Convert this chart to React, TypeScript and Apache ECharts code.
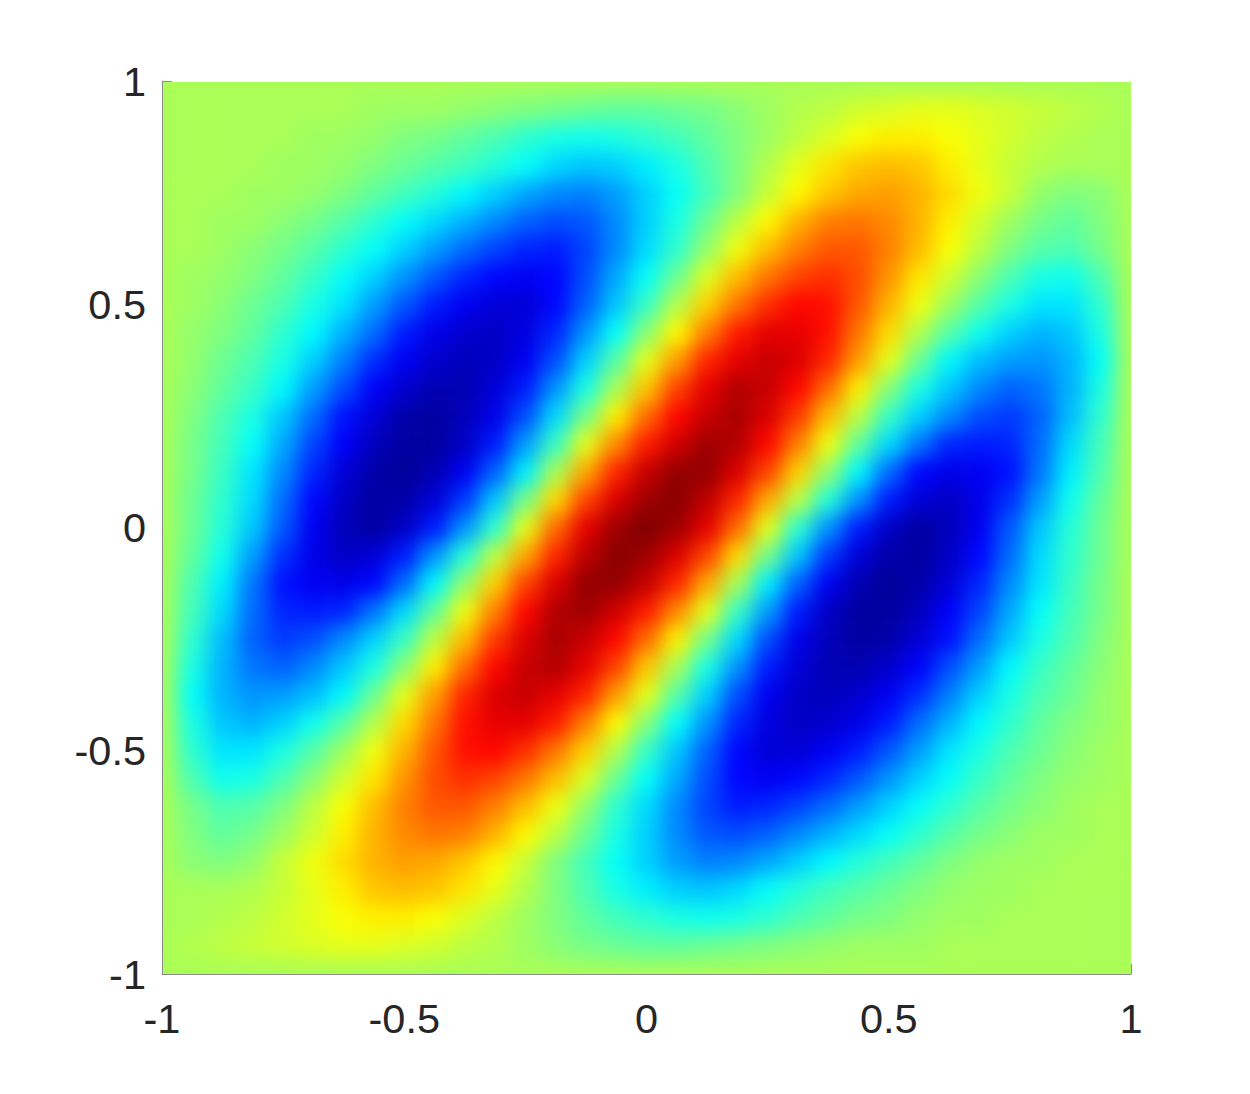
import React, { useEffect, useRef } from "react";
import * as echarts from "echarts";

// Grid positions of the surface, read on a 1/16 step.
const xs = [-1,-0.9375,-0.875,-0.8125,-0.75,-0.6875,-0.625,-0.5625,-0.5,-0.4375,-0.375,-0.3125,-0.25,-0.1875,-0.125,-0.0625,0,0.0625,0.125,0.1875,0.25,0.3125,0.375,0.4375,0.5,0.5625,0.625,0.6875,0.75,0.8125,0.875,0.9375,1];
const ys = [1,0.9375,0.875,0.8125,0.75,0.6875,0.625,0.5625,0.5,0.4375,0.375,0.3125,0.25,0.1875,0.125,0.0625,0,-0.0625,-0.125,-0.1875,-0.25,-0.3125,-0.375,-0.4375,-0.5,-0.5625,-0.625,-0.6875,-0.75,-0.8125,-0.875,-0.9375,-1];
const tickValues = [-1, -0.5, 0, 0.5, 1];
const colorScale = ["#00008f","#0000ff","#0080ff","#00ffff","#80ff80","#ffff00","#ff8000","#ff0000","#800000"];

// Values per row, top row first (0 to 100 along the colour scale).
const rows: number[][] = [
[54,54,54,54,54,54,54,54,54,54,54,54,54,54,54,54,54,54,54,54,54,54,54,54,54,54,54,54,54,54,54,54,54],
[54,54,54,54,54,54,54,53,53,53,52,51,50,49,48,47,47,48,49,51,53,55,56,58,59,60,60,59,58,57,56,55,54],
[54,54,54,54,54,53,53,52,50,49,47,45,42,40,39,40,42,44,47,50,53,56,59,62,64,64,62,60,58,56,55,54,54],
[54,54,54,54,53,53,52,50,48,46,44,41,38,34,32,33,36,40,45,50,55,60,65,68,69,68,64,60,57,55,54,54,54],
[54,54,54,53,53,52,50,47,44,41,37,33,29,26,25,28,33,38,44,50,57,63,68,71,72,70,66,61,57,52,50,51,54],
[54,54,53,53,51,49,46,42,38,34,30,26,22,20,21,26,33,40,48,56,63,70,75,76,74,70,64,58,53,49,47,50,54],
[54,54,53,51,49,46,42,38,33,28,23,19,16,15,19,26,34,42,52,61,69,75,79,79,75,69,62,56,50,46,45,49,54],
[54,53,52,50,47,43,38,33,27,21,16,13,11,13,20,29,38,48,59,69,76,81,83,80,73,65,58,51,45,40,39,45,54],
[54,53,51,48,45,40,35,28,21,15,11,8,8,13,22,32,43,55,67,76,83,87,86,79,70,61,53,46,40,35,35,42,54],
[54,52,50,47,42,37,30,23,15,10,7,6,9,16,27,38,51,63,75,85,90,90,86,76,66,55,46,39,33,30,32,40,54],
[54,52,48,45,40,33,25,17,11,7,5,6,11,20,33,46,60,72,84,90,93,91,84,72,60,48,37,31,28,27,30,38,54],
[54,51,47,43,37,28,20,12,7,4,4,8,15,27,40,54,68,81,90,95,93,87,77,64,51,40,32,26,22,24,30,40,54],
[54,50,45,40,32,23,14,8,3,2,5,10,20,34,49,64,77,87,93,96,91,82,69,56,43,33,26,20,18,22,31,42,54],
[54,49,44,38,29,19,12,5,2,2,6,15,28,43,60,74,85,92,97,95,87,75,61,47,34,24,16,15,16,23,34,44,54],
[54,49,43,35,26,16,8,3,1,4,11,22,36,54,71,84,93,98,98,91,81,67,52,37,23,13,10,11,14,24,36,45,54],
[54,48,42,34,23,13,6,2,3,8,18,32,49,66,81,91,97,99,94,84,71,56,41,27,15,8,6,10,17,28,39,47,54],
[54,48,41,32,21,11,5,2,6,15,27,42,60,77,90,97,100,97,90,77,60,42,27,15,6,2,5,11,21,32,41,48,54],
[54,47,39,28,17,10,6,8,15,27,41,56,71,84,94,99,97,91,81,66,49,32,18,8,3,2,6,13,23,34,42,48,54],
[54,45,36,24,14,11,10,13,23,37,52,67,81,91,98,98,93,84,71,54,36,22,11,4,1,3,8,16,26,35,43,49,54],
[54,44,34,23,16,15,16,24,34,47,61,75,87,95,97,92,85,74,60,43,28,15,6,2,2,5,12,19,29,38,44,49,54],
[54,42,31,22,18,20,26,33,43,56,69,82,91,96,93,87,77,64,49,34,20,10,5,2,3,8,14,23,32,40,45,50,54],
[54,40,30,24,22,26,32,40,51,64,77,87,93,95,90,81,68,54,40,27,15,8,4,4,7,12,20,28,37,43,47,51,54],
[54,38,30,27,28,31,37,48,60,72,84,91,93,90,84,72,60,46,33,20,11,6,5,7,11,17,25,33,40,45,48,52,54],
[54,40,32,30,33,39,46,55,66,76,86,90,90,85,75,63,51,38,27,16,9,6,7,10,15,23,30,37,42,47,50,52,54],
[54,42,35,35,40,46,53,61,70,79,86,87,83,76,67,55,43,32,22,13,8,8,11,15,21,28,35,40,45,48,51,53,54],
[54,45,39,40,45,51,58,65,73,80,83,81,76,69,59,48,38,29,20,13,11,13,16,21,27,33,38,43,47,50,52,53,54],
[54,49,45,46,50,56,62,69,75,79,79,75,69,61,52,42,34,26,19,15,16,19,23,28,33,38,42,46,49,51,53,54,54],
[54,50,47,49,53,58,64,70,74,76,75,70,63,56,48,40,33,26,21,20,22,26,30,34,38,42,46,49,51,53,53,54,54],
[54,51,50,52,57,61,66,70,72,71,68,63,57,50,44,38,33,28,25,26,29,33,37,41,44,47,50,52,53,53,54,54,54],
[54,54,54,55,57,60,64,68,69,68,65,60,55,50,45,40,36,33,32,34,38,41,44,46,48,50,52,53,53,54,54,54,54],
[54,54,55,56,58,60,62,64,64,62,59,56,53,50,47,44,42,40,39,40,42,45,47,49,50,52,53,53,54,54,54,54,54],
[54,55,56,57,58,59,60,60,59,58,56,55,53,51,49,48,47,47,48,49,50,51,52,53,53,53,54,54,54,54,54,54,54],
[54,54,54,54,54,54,54,54,54,54,54,54,54,54,54,54,54,54,54,54,54,54,54,54,54,54,54,54,54,54,54,54,54],
];

const FONT = "'Liberation Sans', Arial, sans-serif";

export default function App() {
  const heatRef = useRef<HTMLDivElement>(null);
  const axesRef = useRef<HTMLDivElement>(null);

  useEffect(() => {
    const axes = echarts.init(axesRef.current!, undefined, { renderer: "svg" });
    const heat = echarts.init(heatRef.current!, undefined, { renderer: "svg" });

    const axisBase = {
      type: "value",
      min: -1,
      max: 1,
      interval: 0.5,
      splitLine: { show: false },
      axisLine: { show: true, onZero: false, lineStyle: { color: "#8c8c8c", width: 1 } },
      axisTick: { show: true, inside: true, length: 10, lineStyle: { color: "#8c8c8c", width: 1 } },
    };
    axes.setOption({
      animation: false,
      grid: { left: 162, top: 81, width: 969, height: 893 },
      xAxis: {
        ...axisBase,
        axisLabel: {
          fontFamily: FONT, fontSize: 41.5, color: "#262626", margin: 23,
          showMinLabel: true, showMaxLabel: true, hideOverlap: false,
        },
      },
      yAxis: {
        ...axisBase,
        axisLabel: {
          fontFamily: FONT, fontSize: 41.5, color: "#262626", margin: 16,
          padding: [8, 0, 0, 0],
          showMinLabel: true, showMaxLabel: true, hideOverlap: false,
        },
      },
      series: [{ type: "line", data: tickValues.map((v) => [v, v]), showSymbol: false, lineStyle: { opacity: 0 }, silent: true }],
    });

    const cells: number[][] = [];
    rows.forEach((row, r) => row.forEach((v, c) => cells.push([c, r, v])));
    heat.setOption({
      animation: false,
      grid: { left: 43.86, top: 46.06, width: 999.3, height: 919.9 },
      xAxis: { type: "category", data: xs.map(String), show: false },
      yAxis: { type: "category", data: ys.map(String), show: false, inverse: true },
      visualMap: { show: false, min: 0, max: 100, inRange: { color: colorScale }, dimension: 2 },
      series: [{ type: "heatmap", data: cells, silent: true, progressive: 0, itemStyle: { borderWidth: 0 } }],
    });

    return () => {
      axes.dispose();
      heat.dispose();
    };
  }, []);

  return (
    <div style={{ position: "absolute", left: 0, top: 0, width: 1250, height: 1094, background: "#fff", overflow: "hidden" }}>
      <div ref={axesRef} style={{ position: "absolute", left: 0, top: 0, width: 1250, height: 1094 }} />
      <div style={{ position: "absolute", left: 163, top: 82, width: 968, height: 892, overflow: "hidden", background: "#a8ff57" }}>
        <div ref={heatRef} style={{ position: "absolute", left: -60, top: -60, width: 1088, height: 1012, filter: "blur(10px)" }} />
      </div>
    </div>
  );
}
